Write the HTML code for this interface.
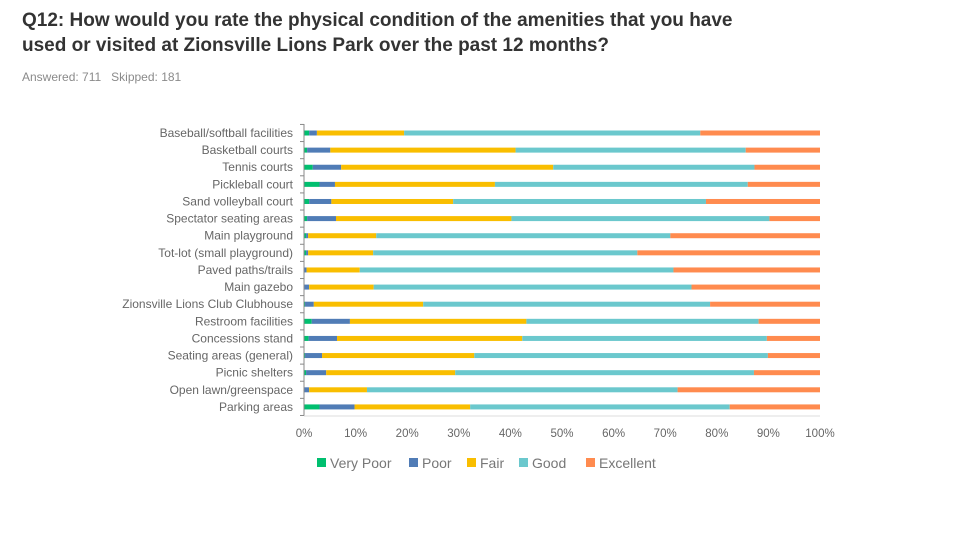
<!DOCTYPE html>
<html><head><meta charset="utf-8"><style>
body{margin:0;width:960px;height:540px;background:#fff;font-family:"Liberation Sans",sans-serif;overflow:hidden;position:relative}
.t{position:absolute;left:22px;top:8px;font-size:19px;font-weight:bold;color:#333;line-height:25px}
.s{position:absolute;left:22px;top:70px;font-size:12px;color:#8a8a8a}
</style></head><body>
<div class="t">Q12: How would you rate the physical condition of the amenities that you have<br>used or visited at Zionsville Lions Park over the past 12 months?</div>
<div class="s">Answered: 711&nbsp;&nbsp;&nbsp;Skipped: 181</div>
<svg id="c" width="960" height="540" style="position:absolute;left:0;top:0"></svg>
<script>
const categories=["Baseball/softball facilities","Basketball courts","Tennis courts","Pickleball court","Sand volleyball court","Spectator seating areas","Main playground","Tot-lot (small playground)","Paved paths/trails","Main gazebo","Zionsville Lions Club Clubhouse","Restroom facilities","Concessions stand","Seating areas (general)","Picnic shelters","Open lawn/greenspace","Parking areas"];
const seriesNames=["Very Poor","Poor","Fair","Good","Excellent"];
const veryPoor=[1.0,0.6,1.7,3.0,1.0,0.6,0.4,0.4,0.1,0.1,0.2,1.5,0.9,0.2,0.4,0.1,3.0];
const poor=[1.5,4.5,5.5,3.0,4.3,5.6,0.4,0.4,0.4,0.9,1.7,7.4,5.5,3.3,3.9,0.9,6.8];
const fair=[16.9,35.9,41.1,31.0,23.6,34.0,13.2,12.6,10.3,12.5,21.2,34.2,35.9,29.5,25.0,11.2,22.4];
const good=[57.4,44.6,39.0,49.0,49.0,50.0,57.0,51.2,60.8,61.6,55.6,45.0,47.4,56.9,57.9,60.2,50.3];
const excellent=[23.2,14.4,12.7,14.0,22.1,9.8,29.0,35.4,28.4,24.9,21.3,11.9,10.3,10.1,12.8,27.6,17.5];
const ticks=[0,10,20,30,40,50,60,70,80,90,100];
const colors=["#00bf6f","#507cb6","#f9be00","#6bc8cd","#ff8b4f"];
const svg=document.getElementById('c');const NS="http://www.w3.org/2000/svg";
const x0=304,x1=820,y0=133,dy=17.12;
const X=v=>x0+(x1-x0)*v/100, Y=i=>y0+i*dy;
function el(t,a,p){const e=document.createElementNS(NS,t);for(const k in a)e.setAttribute(k,a[k]);(p||svg).appendChild(e);return e;}
const series=[veryPoor,poor,fair,good,excellent];
categories.forEach((c,i)=>{
  const l=el('text',{x:293,y:Y(i)+4,'text-anchor':'end','font-size':12,fill:'#666','font-family':'Liberation Sans'});l.textContent=c;
  
  
  let acc=0;
  series.forEach((s,k)=>{
    const r=el('rect',{x:X(acc),y:Y(i)-2.5,width:X(acc+s[i])-X(acc),height:5,fill:colors[k]});
    
    
    acc+=s[i];
  });
});
const ax=el('line',{x1:x0,y1:124,x2:x0,y2:416,stroke:'#888','stroke-width':1});


for(let i=0;i<=categories.length;i++){el('line',{x1:x0-4,y1:Y(i)-dy/2,x2:x0,y2:Y(i)-dy/2,stroke:'#888'});}
const xa=el('line',{x1:x0,y1:416,x2:x1,y2:416,stroke:'#ddd'});
ticks.forEach(t=>{
  const e=el('text',{x:X(t),y:437,'text-anchor':'middle','font-size':11.5,fill:'#666','font-family':'Liberation Sans'});e.textContent=t+'%';
  
  
});
const lx=[317,409,467,519,586];
seriesNames.forEach((n,k)=>{
  const g=el('g',{});
  
  
  el('rect',{x:lx[k],y:458,width:9,height:9,fill:colors[k]},g);
  const t=el('text',{x:lx[k]+13,y:468,'font-size':14,fill:'#777','font-family':'Liberation Sans'},g);t.textContent=n;
});
</script>
</body></html>
